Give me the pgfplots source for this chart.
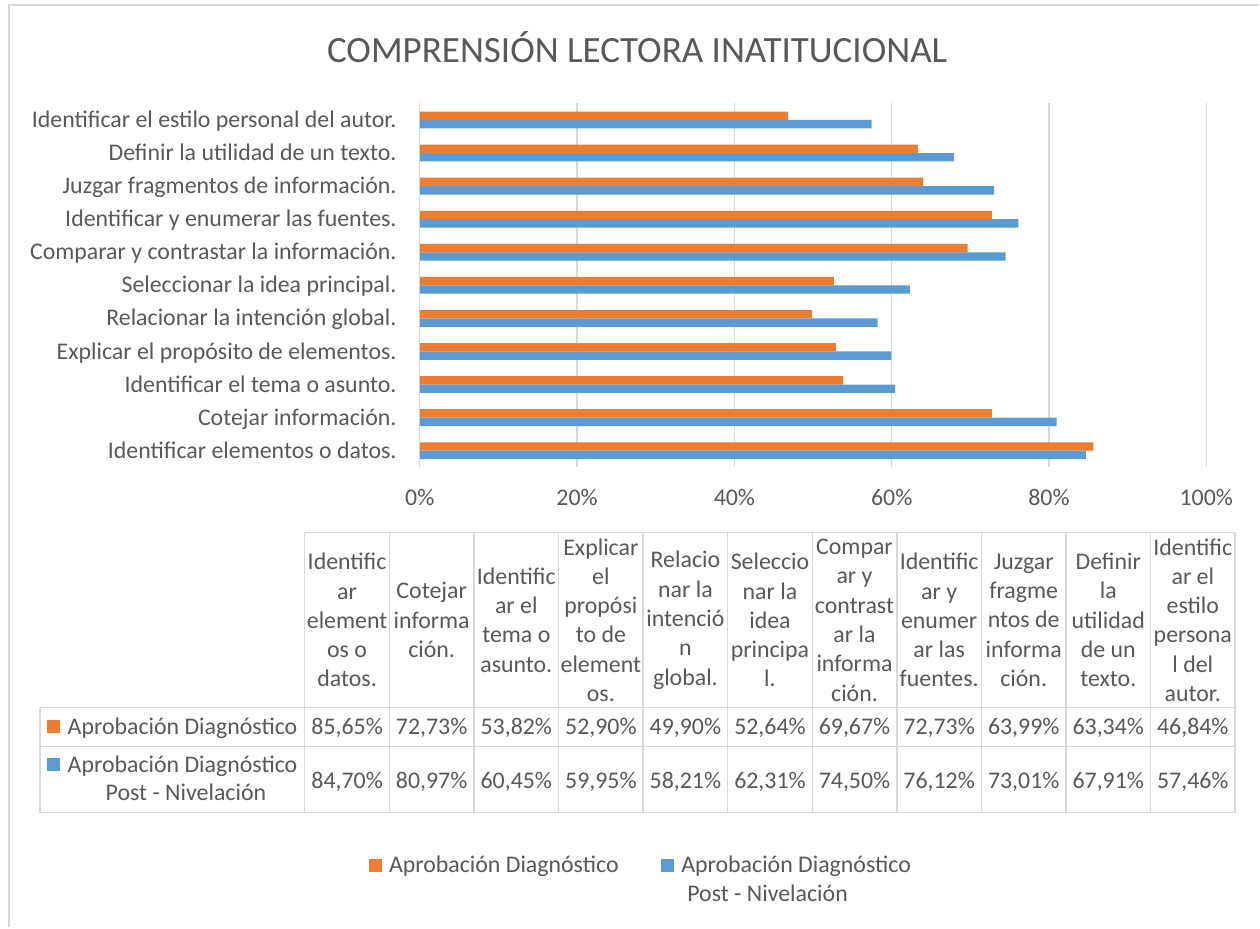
\documentclass[border=0pt]{standalone}
\usepackage{pgfplots}
\pgfplotsset{compat=1.18}
\usepackage{fontspec}
\setmainfont{Carlito}
\definecolor{cOr}{HTML}{ED7D31}
\definecolor{cBl}{HTML}{5B9BD5}
\definecolor{cTx}{HTML}{595959}
\definecolor{cGr}{HTML}{D9D9D9}
\newcommand{\bodyfont}{\fontsize{17.9}{22}\selectfont}
\begin{document}
\begin{tikzpicture}[x=0.75pt,y=0.75pt]
\fill[white] (0,0) rectangle (1260,928);
\draw[cGr, line width=1.1pt] (9,0) -- (9,923) -- (1260,923);
\node[font=\fontsize{27.8}{33}\selectfont, text=cTx, anchor=base] at (637.5,865) {COMPRENSIÓN LECTORA INATITUCIONAL};
\begin{axis}[
  at={(315pt,345.375pt)}, anchor=south west,
  width=590.25pt, height=273pt, scale only axis,
  xmin=0, xmax=100, ymin=-0.5, ymax=10.5,
  xtick={0,20,40,60,80,100},
  xticklabels={0\%,20\%,40\%,60\%,80\%,100\%},
  ytick={0,1,2,3,4,5,6,7,8,9,10},
  yticklabels={Identificar elementos o datos.,Cotejar información.,Identificar el tema o asunto.,Explicar el propósito de elementos.,Relacionar la intención global.,Seleccionar la idea principal.,Comparar y contrastar la información.,Identificar y enumerar las fuentes.,Juzgar fragmentos de información.,Definir la utilidad de un texto.,Identificar el estilo personal del autor.},
  xmajorgrids, major grid style={cGr, line width=0.9pt},
  axis line style={draw=none},
  tick style={draw=none},
  xticklabel style={font=\bodyfont, text=cTx, anchor=base, inner sep=0pt, yshift=-28.9pt},
  yticklabel style={font=\bodyfont, text=cTx, anchor=base east, inner sep=0pt, xshift=-13pt, yshift=-5.7pt},
  xbar, bar width=6.3pt,
  clip=false,
]
\addplot[xbar, fill=cOr, draw=none, bar shift=3.15pt] coordinates {
(85.65,0) (72.73,1) (53.82,2) (52.90,3) (49.90,4) (52.64,5) (69.67,6) (72.73,7) (63.99,8) (63.34,9) (46.84,10)};
\addplot[xbar, fill=cBl, draw=none, bar shift=-3.15pt] coordinates {
(84.70,0) (80.97,1) (60.45,2) (59.95,3) (58.21,4) (62.31,5) (74.50,6) (76.12,7) (73.01,8) (67.91,9) (57.46,10)};
\end{axis}
% table grid
\begin{scope}[cGr, line width=1pt]
\draw (305,395) -- (1236,395);
\draw (40,220) -- (1236,220);
\draw (40,181) -- (1236,181);
\draw (40,115) -- (1236,115);
\draw (40,220) -- (40,115);
\foreach \xx in {305,389.6,474.3,558.9,643.5,728.1,812.7,897.4,982,1066.6,1151.2,1235.8}
  \draw (\xx,395) -- (\xx,115);
\end{scope}
% header
\begin{scope}[every node/.style={align=center, font=\bodyfont, text=cTx, anchor=center, inner sep=0pt}]
\node at (347.3,307.5) {Identific\\ar\\element\\os o\\datos.};
\node at (431.9,307.5) {Cotejar\\informa\\ción.};
\node at (516.6,307.5) {Identific\\ar el\\tema o\\asunto.};
\node at (601.2,307.5) {Explicar\\el\\propósi\\to de\\element\\os.};
\node at (685.8,307.5) {Relacio\\nar la\\intenció\\n\\global.};
\node at (770.4,307.5) {Seleccio\\nar la\\idea\\principa\\l.};
\node at (855.0,307.5) {Compar\\ar y\\contrast\\ar la\\informa\\ción.};
\node at (939.7,307.5) {Identific\\ar y\\enumer\\ar las\\fuentes.};
\node at (1024.3,307.5) {Juzgar\\fragme\\ntos de\\informa\\ción.};
\node at (1108.9,307.5) {Definir\\la\\utilidad\\de un\\texto.};
\node at (1193.5,307.5) {Identific\\ar el\\estilo\\persona\\l del\\autor.};
\end{scope}
% values
\begin{scope}[every node/.style={font=\bodyfont, text=cTx, anchor=base, inner sep=0pt}]
\node at (347.3,193.4) {85,65\%};
\node at (431.9,193.4) {72,73\%};
\node at (516.6,193.4) {53,82\%};
\node at (601.2,193.4) {52,90\%};
\node at (685.8,193.4) {49,90\%};
\node at (770.4,193.4) {52,64\%};
\node at (855.0,193.4) {69,67\%};
\node at (939.7,193.4) {72,73\%};
\node at (1024.3,193.4) {63,99\%};
\node at (1108.9,193.4) {63,34\%};
\node at (1193.5,193.4) {46,84\%};
\node at (347.3,139.4) {84,70\%};
\node at (431.9,139.4) {80,97\%};
\node at (516.6,139.4) {60,45\%};
\node at (601.2,139.4) {59,95\%};
\node at (685.8,139.4) {58,21\%};
\node at (770.4,139.4) {62,31\%};
\node at (855.0,139.4) {74,50\%};
\node at (939.7,139.4) {76,12\%};
\node at (1024.3,139.4) {73,01\%};
\node at (1108.9,139.4) {67,91\%};
\node at (1193.5,139.4) {57,46\%};
% row labels
\fill[cOr] (47,194.5) rectangle (60.5,208);
\node[anchor=base west] at (67.5,193.4) {Aprobación Diagnóstico};
\fill[cBl] (47,156.5) rectangle (60.5,170);
\node[anchor=base west] at (67.5,155.4) {Aprobación Diagnóstico};
\node[anchor=base] at (186,127.4) {Post - Nivelación};
% legend
\fill[cOr] (369,55.5) rectangle (382.5,69);
\node[anchor=base west] at (389,55.4) {Aprobación Diagnóstico};
\fill[cBl] (661,55.5) rectangle (674.5,69);
\node[anchor=base west] at (681.5,55.4) {Aprobación Diagnóstico};
\node[anchor=base west] at (687.5,26.4) {Post - Nivelación};
\end{scope}
\end{tikzpicture}
\end{document}
